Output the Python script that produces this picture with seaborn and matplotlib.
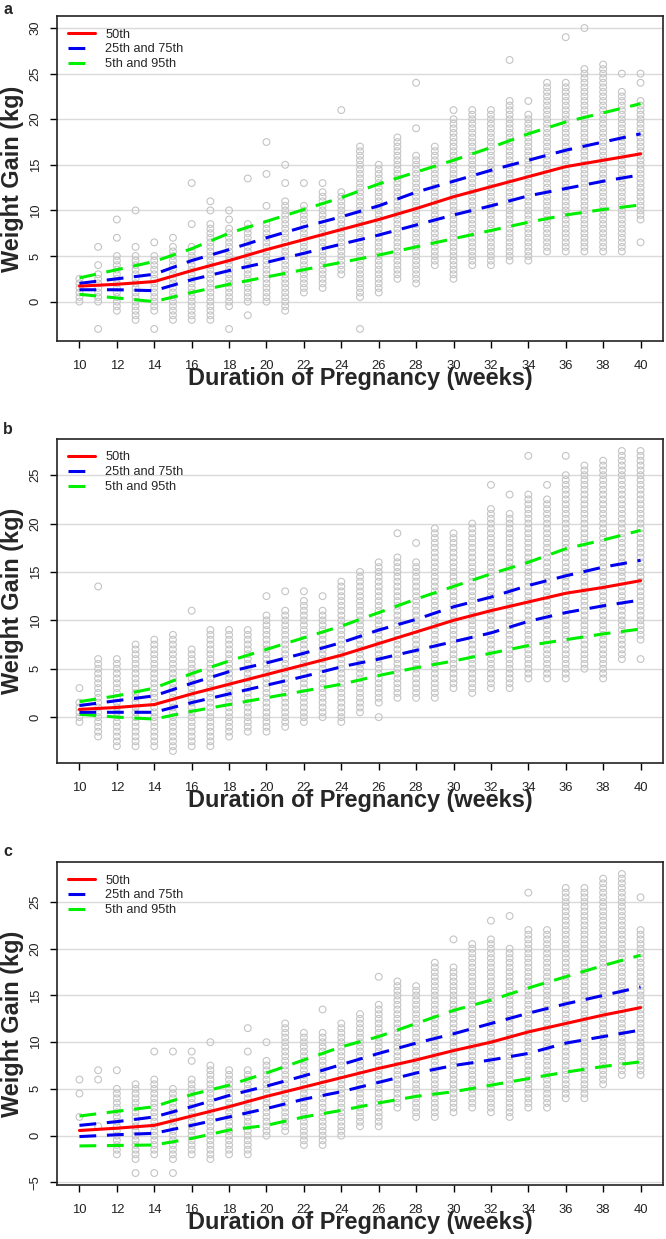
import numpy as np
import pandas as pd
import seaborn as sns
import matplotlib.pyplot as plt
from matplotlib.lines import Line2D

# ---- data ------------------------------------------------------------
weeks = list(range(10, 41))
knots = list(range(10, 41, 2))

# columns of observed weight gain (kg): densest run lo..hi (0.5 kg steps) + stray points
a_lo = [0, 0, -1, -2, -1, -2, -2, -2, -0.5, 0, 0, -1, 1, 1.5, 3, 0.5, 1, 2.5, 2, 4, 2.5, 4, 4, 4.5, 4.5, 5.5, 5.5, 5.5, 5.5, 5.5, 9]
a_hi = [2.5, 3, 5, 5, 5, 6, 6, 8.5, 8, 8.5, 8.5, 11, 10.5, 12, 12, 17, 15, 18, 16, 17, 20, 21, 21, 22, 20.5, 24, 24, 25.5, 26, 23, 22]
a_extra = [(11, 4), (11, 6), (11, -3), (12, 7), (12, 9), (13, 6), (13, 10), (14, 6.5), (14, -3),
           (15, 7), (16, 8.5), (16, 13), (17, 10), (17, 11), (18, 9), (18, 10), (18, -3),
           (19, -1.5), (19, 13.5), (20, 10.5), (20, 14), (20, 17.5), (21, 13), (21, 15), (22, 13),
           (23, 13), (24, 21), (25, -3), (28, 19), (28, 24), (30, 21), (33, 26.5), (34, 22),
           (36, 29), (37, 30), (39, 25), (40, 6.5), (40, 24), (40, 25)]

b_lo = [-0.5, -2, -3, -3, -3, -3.5, -3, -3, -2, -1.5, -1.5, -1, -0.5, 0, -0.5, 0.5, 1.5, 2, 2, 2, 3, 2.5, 3, 3, 4, 4, 4, 5, 4, 6, 8]
b_hi = [1.5, 6, 6, 7.5, 8, 8.5, 7, 9, 9, 9, 10.5, 11, 12, 11, 14, 15, 16, 16.5, 16, 19.5, 19, 20, 21.5, 21, 23, 22.5, 25, 26, 26.5, 27.5, 27.5]
b_extra = [(10, 3), (11, 13.5), (16, 11), (20, 12.5), (21, 13), (22, 13), (23, 12.5), (26, 0),
           (27, 19), (28, 18), (32, 24), (33, 23), (34, 27), (35, 24), (36, 27), (40, 6)]

c_lo = [2, 1, -2, -2.5, -2, -2.5, -2, -2.5, -2, -2, 0, 0.5, -1, -1, 0, 1, 1, 3, 2, 2, 2.5, 3, 2.5, 2, 3, 3, 4, 4, 5.5, 6.5, 6.5]
c_hi = [2, 1, 5, 5.5, 6, 5, 6, 7.5, 7, 7, 8, 12, 11, 11, 12, 13, 14, 16.5, 16, 18.5, 18, 20.5, 21, 20, 22, 22, 26.5, 26.5, 27.5, 28, 22]
c_extra = [(10, 4.5), (10, 6), (11, 6), (11, 7), (12, 7), (13, -4), (14, 9), (14, -4), (15, 9), (15, -4),
           (16, 8), (16, 9), (17, 10), (19, 9), (19, 11.5), (20, 10), (23, 13.5), (26, 17),
           (30, 21), (32, 23), (33, 23.5), (34, 26), (40, 25.5)]

# percentile curves at even weeks
a_p5 = [0.8, 0.4, 0.0, 1.0, 1.9, 2.7, 3.5, 4.3, 5.1, 6.0, 6.9, 7.8, 8.7, 9.5, 10.1, 10.6]
a_p25 = [1.3, 1.3, 1.2, 2.4, 3.4, 4.3, 5.3, 6.3, 7.3, 8.4, 9.5, 10.5, 11.6, 12.4, 13.2, 13.9]
a_p50 = [1.7, 1.9, 2.2, 3.4, 4.5, 5.7, 6.8, 7.9, 9.0, 10.2, 11.5, 12.6, 13.7, 14.8, 15.5, 16.2]
a_p75 = [2.0, 2.5, 3.0, 4.5, 5.7, 7.0, 8.2, 9.3, 10.5, 12.0, 13.2, 14.4, 15.5, 16.6, 17.5, 18.4]
a_p95 = [2.6, 3.5, 4.4, 5.8, 7.5, 8.8, 10.1, 11.4, 12.9, 14.2, 15.5, 16.9, 18.4, 19.7, 20.7, 21.7]

b_p5 = [0.3, 0.0, -0.2, 0.6, 1.3, 2.0, 2.7, 3.4, 4.3, 5.1, 5.8, 6.6, 7.4, 8.0, 8.6, 9.1]
b_p25 = [0.5, 0.5, 0.5, 1.5, 2.4, 3.3, 4.2, 5.2, 6.0, 6.9, 7.8, 8.7, 9.9, 10.8, 11.5, 12.1]
b_p50 = [0.8, 1.0, 1.3, 2.4, 3.4, 4.4, 5.4, 6.4, 7.6, 8.8, 10.0, 11.0, 11.9, 12.8, 13.4, 14.1]
b_p75 = [1.2, 1.7, 2.2, 3.5, 4.7, 5.6, 6.6, 7.7, 9.0, 10.1, 11.4, 12.4, 13.6, 14.6, 15.5, 16.2]
b_p95 = [1.6, 2.2, 3.0, 4.5, 5.8, 7.0, 8.2, 9.4, 10.8, 12.2, 13.5, 14.8, 16.0, 17.4, 18.3, 19.3]

c_p5 = [-1.1, -1.05, -1.0, -0.3, 0.6, 1.1, 2.0, 2.7, 3.5, 4.2, 4.7, 5.4, 6.1, 6.8, 7.4, 7.9]
c_p25 = [-0.1, 0.1, 0.25, 1.1, 2.0, 2.9, 3.9, 4.7, 5.7, 6.7, 7.5, 8.1, 8.8, 9.9, 10.6, 11.3]
c_p50 = [0.55, 0.8, 1.1, 2.1, 3.1, 4.2, 5.2, 6.2, 7.2, 8.1, 9.1, 10.0, 11.1, 12.0, 12.9, 13.7]
c_p75 = [1.1, 1.5, 2.0, 3.1, 4.3, 5.3, 6.4, 7.6, 8.8, 9.9, 10.9, 12.0, 13.1, 14.1, 15.0, 15.9]
c_p95 = [2.1, 2.6, 3.1, 4.4, 5.4, 6.7, 8.1, 9.5, 10.6, 12.0, 13.4, 14.5, 15.8, 17.0, 18.2, 19.3]

labels = ['50th', '25th and 75th', '5th and 95th']

# ---- figure ------------------------------------------------------------
sns.set_theme(style="white")
plt.rcParams['font.family'] = ['Liberation Sans', 'DejaVu Sans']

W, H = 666, 1239
fig = plt.figure(figsize=(W / 100, H / 100), dpi=100)

DASH = (0, (5.5, 3.5))
LW = 2.2


def column_points(lo, hi, extra):
    xs, ys = [], []
    for w, l, h in zip(weeks, lo, hi):
        vals = np.arange(l, h + 0.01, 0.5)
        xs += [w] * len(vals)
        ys += list(vals)
    for w, v in extra:
        xs.append(w)
        ys.append(v)
    return pd.DataFrame({'week': xs, 'gain': ys})


panels = [
    dict(letter='a', top=16, h=325, ly=9, lo=a_lo, hi=a_hi, extra=a_extra,
         curves=(a_p5, a_p25, a_p50, a_p75, a_p95), ylim=(-4.32, 31.32), yticks=range(0, 31, 5)),
    dict(letter='b', top=439, h=324, ly=429, lo=b_lo, hi=b_hi, extra=b_extra,
         curves=(b_p5, b_p25, b_p50, b_p75, b_p95), ylim=(-4.74, 28.74), yticks=range(0, 26, 5)),
    dict(letter='c', top=862, h=323, ly=852, lo=c_lo, hi=c_hi, extra=c_extra,
         curves=(c_p5, c_p25, c_p50, c_p75, c_p95), ylim=(-5.28, 29.28), yticks=range(-5, 26, 5)),
]

for p in panels:
    ax = fig.add_axes([57 / W, 1 - (p['top'] + p['h']) / H, 606 / W, p['h'] / H])
    df = column_points(p['lo'], p['hi'], p['extra'])
    sns.scatterplot(data=df, x='week', y='gain', ax=ax, marker='o', s=24,
                    facecolor='none', edgecolor='#c4c4c4', linewidth=0.8, zorder=2)

    p5, p25, p50, p75, p95 = p['curves']
    for vals, col, ls in [(p95, '#00ee00', DASH), (p5, '#00ee00', DASH),
                          (p75, '#0000ee', DASH), (p25, '#0000ee', DASH),
                          (p50, '#ff0000', '-')]:
        sns.lineplot(x=knots, y=vals, ax=ax, color=col, lw=LW, linestyle=ls,
                     solid_capstyle='round', zorder=3)

    ax.set_xlim(8.8, 41.2)
    ax.set_ylim(*p['ylim'])
    ax.set_xticks(range(10, 41, 2))
    ax.set_yticks(list(p['yticks']))
    ax.yaxis.grid(True, color='#dadada', lw=1.0)
    ax.xaxis.grid(False)
    ax.set_axisbelow(True)
    ax.set_xlabel('')
    ax.set_ylabel('')
    ax.tick_params(axis='both', direction='out', length=5, width=1, color='black',
                   labelsize=9.4, labelcolor='#222222', bottom=True, left=True)
    ax.tick_params(axis='x', pad=8.5)
    ax.tick_params(axis='y', pad=6, labelrotation=90)
    plt.setp(ax.get_yticklabels(), va='center')
    for s in ax.spines.values():
        s.set_color('#222222')
        s.set_linewidth(1.2)

    handles = [Line2D([], [], color='#ff0000', lw=LW),
               Line2D([], [], color='#0000ee', lw=LW, linestyle=DASH),
               Line2D([], [], color='#00ee00', lw=LW, linestyle=DASH)]
    ax.legend(handles, labels, loc='upper left', bbox_to_anchor=(11 / 606, 1 - 12.5 / p['h']),
              frameon=False, fontsize=9.2, handlelength=2.1, handletextpad=0.8,
              labelspacing=0.22, borderpad=0, borderaxespad=0)

    fig.text(8 / W, 1 - p['ly'] / H, p['letter'], fontsize=11.5, fontweight='bold',
             ha='center', va='center')
    fig.text(13 / W, 1 - (p['top'] + p['h'] / 2) / H, 'Weight Gain (kg)', rotation=90,
             fontsize=16.9, fontweight='bold', ha='center', va='center')
    fig.text(360 / W, 1 - (p['top'] + p['h'] + 44) / H, 'Duration of Pregnancy (weeks)',
             fontsize=16.9, fontweight='bold', ha='center', va='baseline')

fig.savefig('out.png', dpi=100)
